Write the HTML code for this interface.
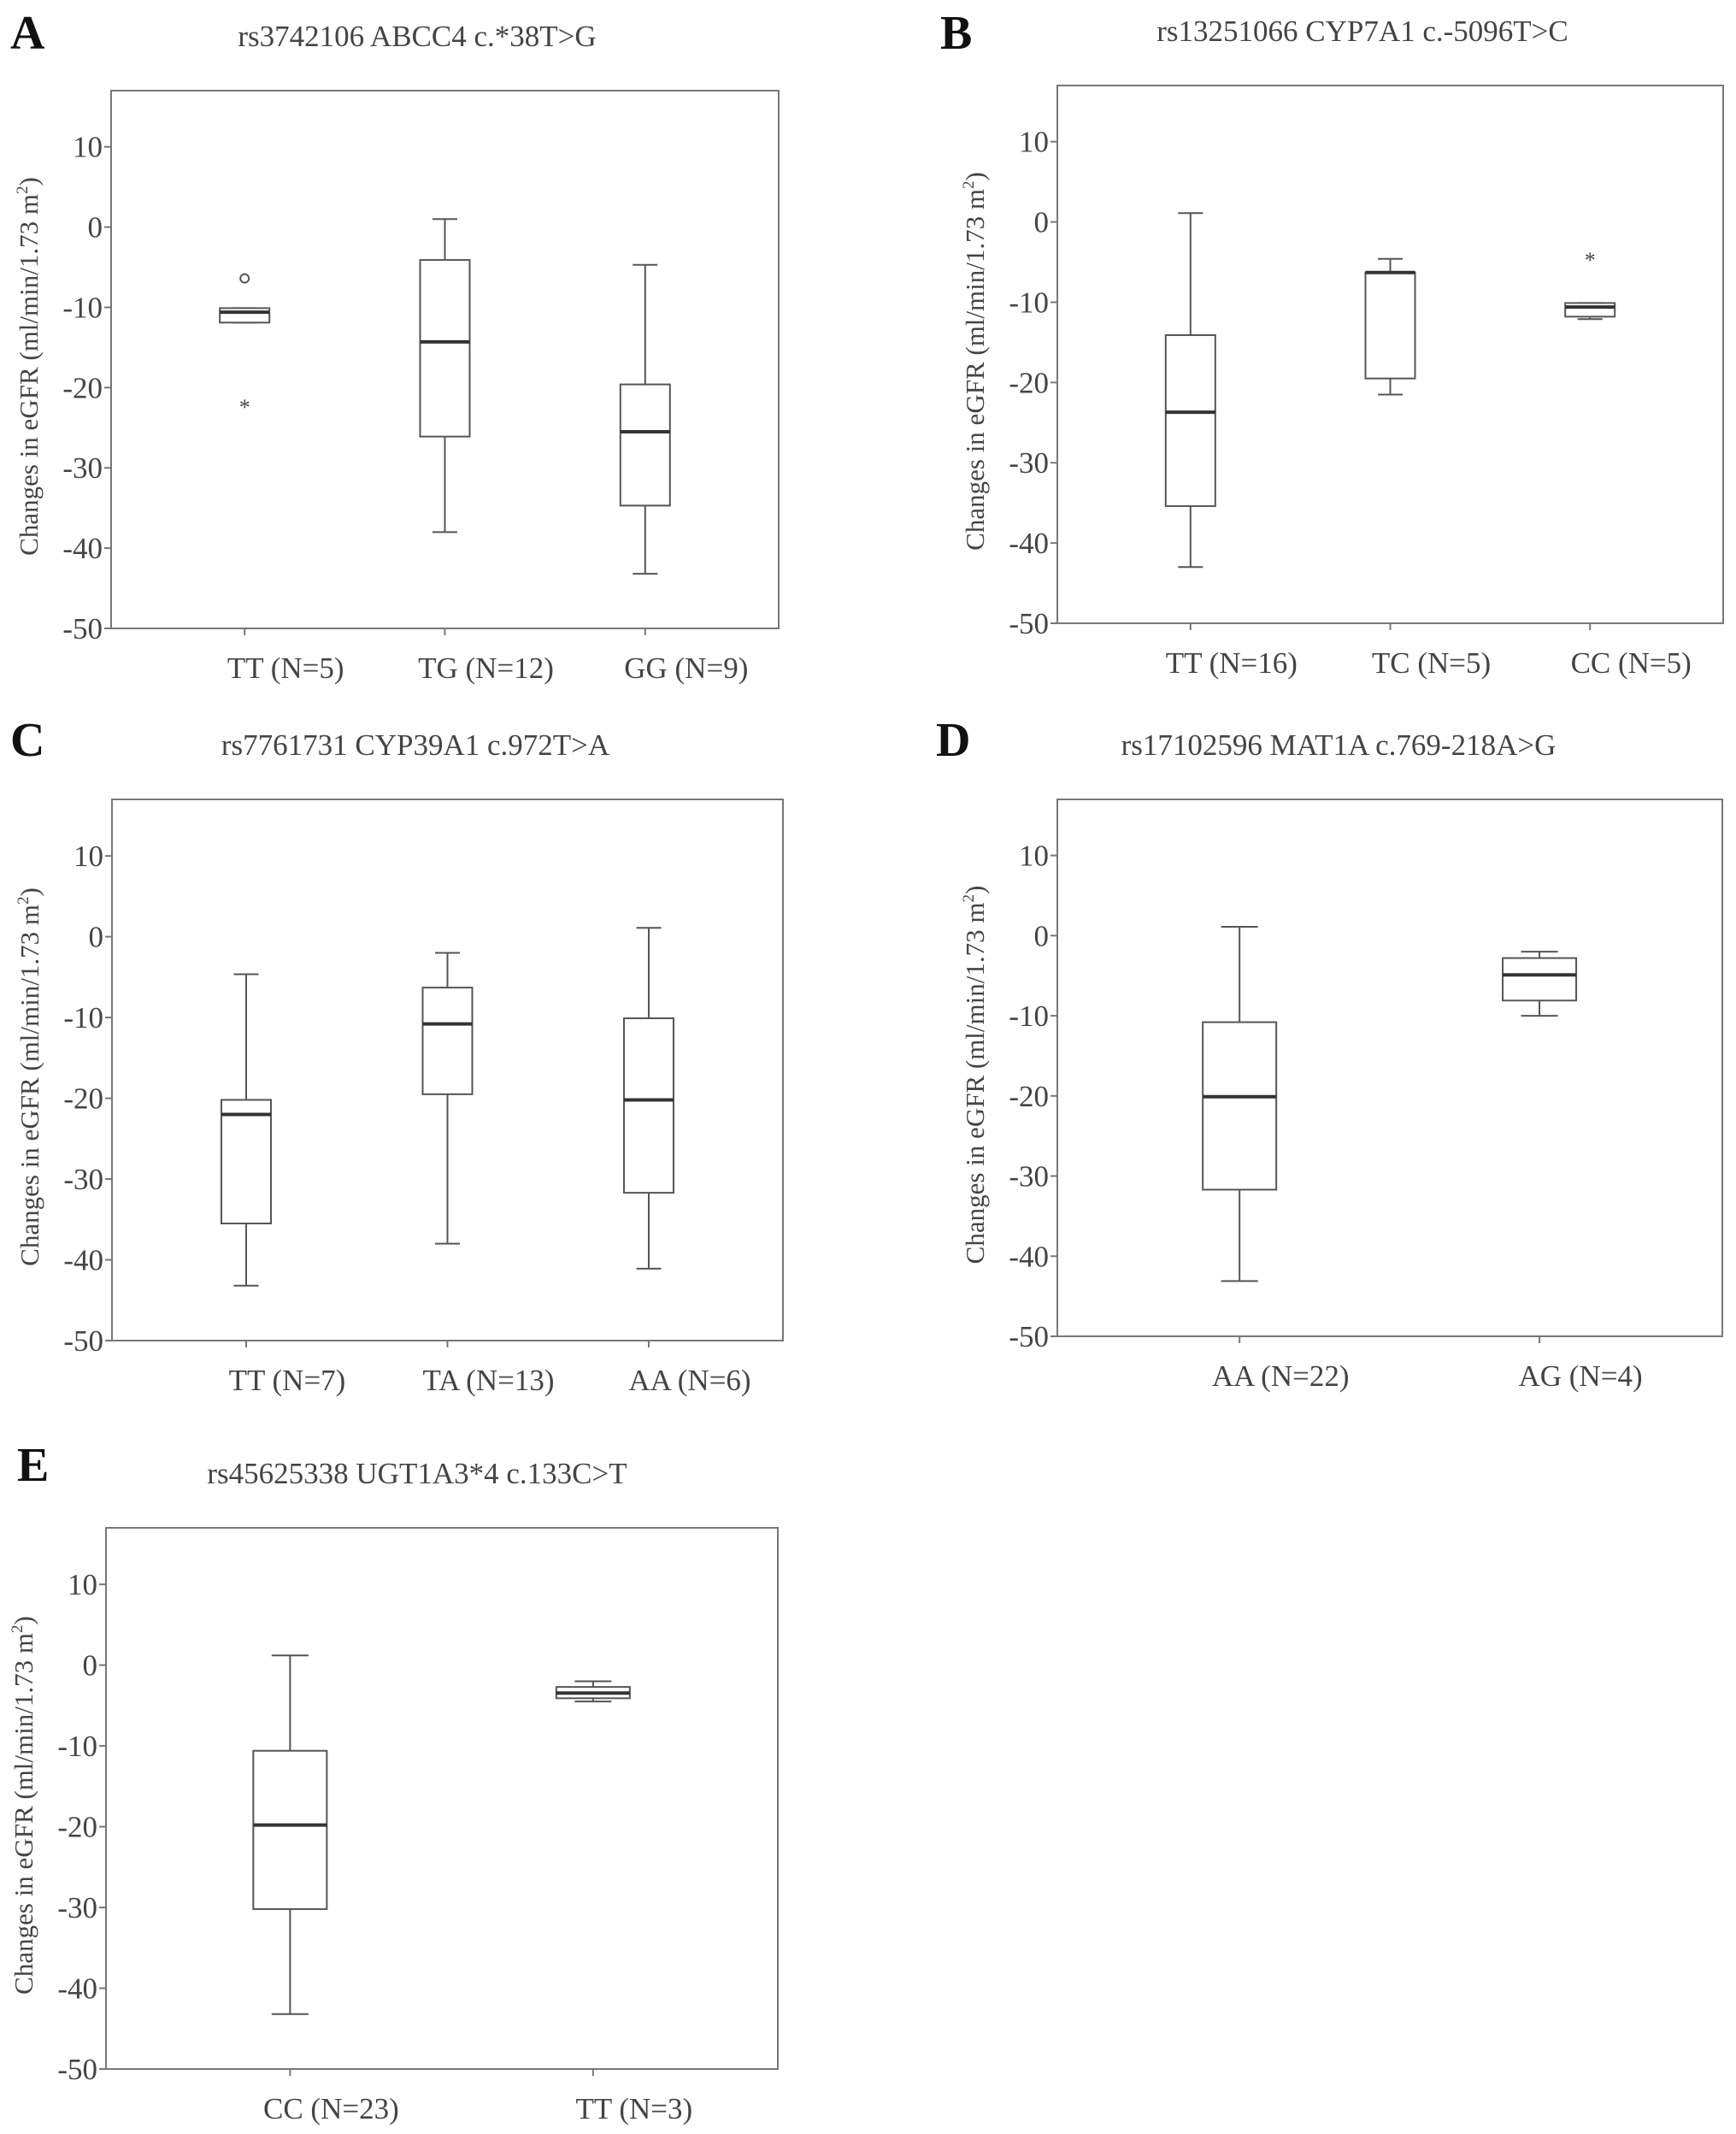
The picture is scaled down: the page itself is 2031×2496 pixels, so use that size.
<!DOCTYPE html>
<html><head><meta charset="utf-8">
<style>
html,body{margin:0;padding:0;background:#fff;}
svg{display:block;}
text{font-family:"Liberation Serif",serif;fill:#444;}
</style></head>
<body>
<svg id="fig" width="2031" height="2496" viewBox="0 0 2031 2496" xmlns="http://www.w3.org/2000/svg"></svg>
<script>
// ---- data ----
const titlesA = "rs3742106 ABCC4 c.*38T>G";
const catsA = ["TT (N=5)", "TG (N=12)", "GG (N=9)"];
const loA = [-11.9, -38.0, -43.2];
const q1A = [-11.9, -26.1, -34.7];
const medA = [-10.6, -14.3, -25.5];
const q3A = [-10.1, -4.1, -19.6];
const hiA = [-10.1, 1.0, -4.7];
const circA = [[0, -6.4]];
const starA = [[0, -22.1]];

const catsB = ["TT (N=16)", "TC (N=5)", "CC (N=5)"];
const loB = [-43.0, -21.5, -12.1];
const q1B = [-35.4, -19.5, -11.8];
const medB = [-23.7, -6.3, -10.6];
const q3B = [-14.1, -6.3, -10.1];
const hiB = [1.1, -4.6, -10.1];
const starB = [[2, -4.4]];

const catsC = ["TT (N=7)", "TA (N=13)", "AA (N=6)"];
const loC = [-43.2, -38.0, -41.1];
const q1C = [-35.5, -19.5, -31.7];
const medC = [-22.0, -10.8, -20.2];
const q3C = [-20.2, -6.3, -10.1];
const hiC = [-4.65, -2.0, 1.1];

const catsD = ["AA (N=22)", "AG (N=4)"];
const loD = [-43.1, -10.0];
const q1D = [-31.7, -8.1];
const medD = [-20.1, -4.9];
const q3D = [-10.8, -2.8];
const hiD = [1.1, -2.0];

const catsE = ["CC (N=23)", "TT (N=3)"];
const loE = [-43.2, -4.5];
const q1E = [-30.2, -4.1];
const medE = [-19.8, -3.45];
const q3E = [-10.6, -2.7];
const hiE = [1.2, -2.0];

const yTicks = [10, 0, -10, -20, -30, -40, -50];

const NS = "http://www.w3.org/2000/svg";
const svg = document.getElementById("fig");
function mk(tag, attrs, parent) {
  const e = document.createElementNS(NS, tag);
  for (const k in attrs) e.setAttribute(k, attrs[k]);
  (parent || svg).appendChild(e);
  return e;
}

function panel(cfg) {
  const g = mk("g", {});
  
  
  const {L, R, T, B} = cfg;
  const per10 = (B - T) / 6.7;
  const y = v => B - (v + 50) / 10 * per10;
  const n = cfg.cats.length;
  const fr = n === 3 ? [0.2, 0.5, 0.8] : [0.274, 0.725];
  const x = i => L + fr[i] * (R - L);
  const bw = n === 3 ? 58 : 86;

  const lt = mk("text", {x: cfg.lx, y: cfg.ly, "font-size": 56, "font-weight": "bold", fill: "#111", style: "fill:#111"}, g);
  lt.textContent = cfg.letter;
  
  

  const tt = mk("text", {x: cfg.tx, y: T - 52, "font-size": 35, "text-anchor": "middle"}, g);
  tt.textContent = cfg.title;
  
  

  const fr0 = mk("rect", {x: L, y: T, width: R - L, height: B - T, fill: "none", stroke: "#777", "stroke-width": 2}, g);
  
  

  yTicks.forEach(v => {
    const tk = mk("line", {x1: L - 8, x2: L, y1: y(v), y2: y(v), stroke: "#777", "stroke-width": 2}, g);
    
    
    const tl = mk("text", {x: L - 10, y: y(v) + 12, "font-size": 35, "text-anchor": "end"}, g);
    tl.textContent = v;
    
    
  });

  const at = mk("text", {transform: `translate(${L - 86},${(T + B) / 2 + 8}) rotate(-90)`, "font-size": 31, "text-anchor": "middle"}, g);
  at.innerHTML = 'Changes in eGFR (ml/min/1.73 m<tspan dy="-12" font-size="19">2</tspan><tspan dy="12">)</tspan>';
  
  

  cfg.cats.forEach((c, i) => {
    const cx = x(i);
    const tk = mk("line", {x1: cx, x2: cx, y1: B, y2: B + 8, stroke: "#777", "stroke-width": 2}, g);
    
    
    const xl = mk("text", {x: cx + 48, y: B + 58, "font-size": 35, "text-anchor": "middle"}, g);
    xl.textContent = c;
    
    

    const bg = mk("g", {stroke: "#555", "stroke-width": 2, fill: "none"}, g);
    
    
    mk("line", {x1: cx, x2: cx, y1: y(cfg.hi[i]), y2: y(cfg.q3[i])}, bg);
    mk("line", {x1: cx, x2: cx, y1: y(cfg.q1[i]), y2: y(cfg.lo[i])}, bg);
    mk("line", {x1: cx - bw / 4, x2: cx + bw / 4, y1: y(cfg.hi[i]), y2: y(cfg.hi[i])}, bg);
    mk("line", {x1: cx - bw / 4, x2: cx + bw / 4, y1: y(cfg.lo[i]), y2: y(cfg.lo[i])}, bg);
    mk("rect", {x: cx - bw / 2, y: y(cfg.q3[i]), width: bw, height: Math.max(1, y(cfg.q1[i]) - y(cfg.q3[i])), fill: "#fff"}, bg);
    mk("line", {x1: cx - bw / 2, x2: cx + bw / 2, y1: y(cfg.med[i]), y2: y(cfg.med[i]), stroke: "#333", "stroke-width": 4}, bg);
  });
  (cfg.circ || []).forEach(p => {
    const c = mk("circle", {cx: x(p[0]), cy: y(p[1]), r: 5, fill: "none", stroke: "#555", "stroke-width": 2}, g);
    
    
  });
  (cfg.star || []).forEach(p => {
    const s = mk("text", {x: x(p[0]), y: y(p[1]) + 12, "font-size": 26, "text-anchor": "middle"}, g);
    s.textContent = "*";
    
    
  });
}

panel({letter: "A", lx: 12, ly: 57, tx: 488, title: titlesA, L: 130, R: 911, T: 106, B: 735,
  cats: catsA, lo: loA, q1: q1A, med: medA, q3: q3A, hi: hiA, circ: circA, star: starA});
panel({letter: "B", lx: 1100, ly: 57, tx: 1594, title: "rs13251066 CYP7A1 c.-5096T>C", L: 1237, R: 2016, T: 100, B: 729,
  cats: catsB, lo: loB, q1: q1B, med: medB, q3: q3B, hi: hiB, star: starB});
panel({letter: "C", lx: 12, ly: 884, tx: 486, title: "rs7761731 CYP39A1 c.972T>A", L: 131, R: 916, T: 935, B: 1568,
  cats: catsC, lo: loC, q1: q1C, med: medC, q3: q3C, hi: hiC});
panel({letter: "D", lx: 1095, ly: 884, tx: 1566, title: "rs17102596 MAT1A c.769-218A>G", L: 1237, R: 2015, T: 935, B: 1563,
  cats: catsD, lo: loD, q1: q1D, med: medD, q3: q3D, hi: hiD});
panel({letter: "E", lx: 20, ly: 1732, tx: 488, title: "rs45625338 UGT1A3*4 c.133C>T", L: 124, R: 910, T: 1787, B: 2420,
  cats: catsE, lo: loE, q1: q1E, med: medE, q3: q3E, hi: hiE});
</script>
</body></html>
